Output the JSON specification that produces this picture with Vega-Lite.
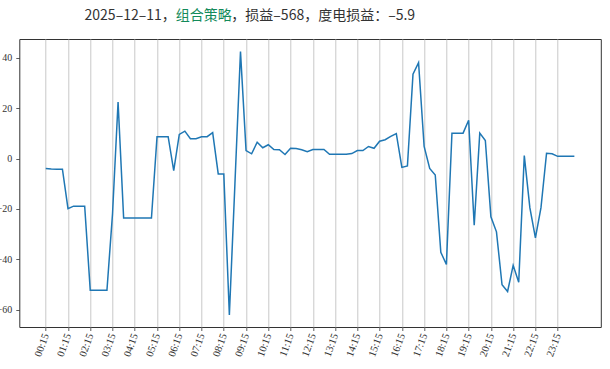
{
  "$schema": "https://vega.github.io/schema/vega-lite/v6.json",
  "width": 581.5,
  "height": 288,
  "autosize": {"type": "none"},
  "padding": {"left": 19.3, "top": 39, "right": 9.2, "bottom": 42},
  "background": "white",
  "config": {
    "view": {"stroke": "#333333", "strokeWidth": 1},
    "axis": {"domain": false, "labelColor": "#333333", "tickColor": "#333333", "titleColor": "#333333"}
  },
  "datasets": {
    "pnl": [
      {"t": "2025-12-11T00:15:00", "v": -3.9}, {"t": "2025-12-11T00:30:00", "v": -4.1}, {"t": "2025-12-11T00:45:00", "v": -4.2}, {"t": "2025-12-11T01:00:00", "v": -4.2},
      {"t": "2025-12-11T01:15:00", "v": -19.9}, {"t": "2025-12-11T01:30:00", "v": -18.9}, {"t": "2025-12-11T01:45:00", "v": -18.9}, {"t": "2025-12-11T02:00:00", "v": -18.9},
      {"t": "2025-12-11T02:15:00", "v": -52.3}, {"t": "2025-12-11T02:30:00", "v": -52.3}, {"t": "2025-12-11T02:45:00", "v": -52.3}, {"t": "2025-12-11T03:00:00", "v": -52.3},
      {"t": "2025-12-11T03:15:00", "v": -22.0}, {"t": "2025-12-11T03:30:00", "v": 22.5}, {"t": "2025-12-11T03:45:00", "v": -23.6}, {"t": "2025-12-11T04:00:00", "v": -23.6},
      {"t": "2025-12-11T04:15:00", "v": -23.6}, {"t": "2025-12-11T04:30:00", "v": -23.6}, {"t": "2025-12-11T04:45:00", "v": -23.6}, {"t": "2025-12-11T05:00:00", "v": -23.6},
      {"t": "2025-12-11T05:15:00", "v": 8.7}, {"t": "2025-12-11T05:30:00", "v": 8.7}, {"t": "2025-12-11T05:45:00", "v": 8.7}, {"t": "2025-12-11T06:00:00", "v": -4.8},
      {"t": "2025-12-11T06:15:00", "v": 9.6}, {"t": "2025-12-11T06:30:00", "v": 10.9}, {"t": "2025-12-11T06:45:00", "v": 7.9}, {"t": "2025-12-11T07:00:00", "v": 7.9},
      {"t": "2025-12-11T07:15:00", "v": 8.7}, {"t": "2025-12-11T07:30:00", "v": 8.7}, {"t": "2025-12-11T07:45:00", "v": 10.3}, {"t": "2025-12-11T08:00:00", "v": -6.1},
      {"t": "2025-12-11T08:15:00", "v": -6.1}, {"t": "2025-12-11T08:30:00", "v": -62.1}, {"t": "2025-12-11T08:45:00", "v": -10.0}, {"t": "2025-12-11T09:00:00", "v": 42.5},
      {"t": "2025-12-11T09:15:00", "v": 3.2}, {"t": "2025-12-11T09:30:00", "v": 1.9}, {"t": "2025-12-11T09:45:00", "v": 6.5}, {"t": "2025-12-11T10:00:00", "v": 4.3},
      {"t": "2025-12-11T10:15:00", "v": 5.5}, {"t": "2025-12-11T10:30:00", "v": 3.6}, {"t": "2025-12-11T10:45:00", "v": 3.5}, {"t": "2025-12-11T11:00:00", "v": 1.6},
      {"t": "2025-12-11T11:15:00", "v": 4.1}, {"t": "2025-12-11T11:30:00", "v": 4.0}, {"t": "2025-12-11T11:45:00", "v": 3.5}, {"t": "2025-12-11T12:00:00", "v": 2.7},
      {"t": "2025-12-11T12:15:00", "v": 3.6}, {"t": "2025-12-11T12:30:00", "v": 3.6}, {"t": "2025-12-11T12:45:00", "v": 3.6}, {"t": "2025-12-11T13:00:00", "v": 1.7},
      {"t": "2025-12-11T13:15:00", "v": 1.7}, {"t": "2025-12-11T13:30:00", "v": 1.7}, {"t": "2025-12-11T13:45:00", "v": 1.7}, {"t": "2025-12-11T14:00:00", "v": 2.0},
      {"t": "2025-12-11T14:15:00", "v": 3.2}, {"t": "2025-12-11T14:30:00", "v": 3.2}, {"t": "2025-12-11T14:45:00", "v": 4.8}, {"t": "2025-12-11T15:00:00", "v": 4.1},
      {"t": "2025-12-11T15:15:00", "v": 6.9}, {"t": "2025-12-11T15:30:00", "v": 7.5}, {"t": "2025-12-11T15:45:00", "v": 8.8}, {"t": "2025-12-11T16:00:00", "v": 9.9},
      {"t": "2025-12-11T16:15:00", "v": -3.5}, {"t": "2025-12-11T16:30:00", "v": -2.9}, {"t": "2025-12-11T16:45:00", "v": 33.5}, {"t": "2025-12-11T17:00:00", "v": 38.1},
      {"t": "2025-12-11T17:15:00", "v": 4.8}, {"t": "2025-12-11T17:30:00", "v": -3.9}, {"t": "2025-12-11T17:45:00", "v": -6.5}, {"t": "2025-12-11T18:00:00", "v": -37.2},
      {"t": "2025-12-11T18:15:00", "v": -42.1}, {"t": "2025-12-11T18:30:00", "v": 10.1}, {"t": "2025-12-11T18:45:00", "v": 10.1}, {"t": "2025-12-11T19:00:00", "v": 10.1},
      {"t": "2025-12-11T19:15:00", "v": 15.2}, {"t": "2025-12-11T19:30:00", "v": -26.5}, {"t": "2025-12-11T19:45:00", "v": 10.1}, {"t": "2025-12-11T20:00:00", "v": 7.2},
      {"t": "2025-12-11T20:15:00", "v": -23.1}, {"t": "2025-12-11T20:30:00", "v": -29.1}, {"t": "2025-12-11T20:45:00", "v": -50.1}, {"t": "2025-12-11T21:00:00", "v": -52.8},
      {"t": "2025-12-11T21:15:00", "v": -42.4}, {"t": "2025-12-11T21:30:00", "v": -49.1}, {"t": "2025-12-11T21:45:00", "v": 1.2}, {"t": "2025-12-11T22:00:00", "v": -19.5},
      {"t": "2025-12-11T22:15:00", "v": -31.5}, {"t": "2025-12-11T22:30:00", "v": -19.5}, {"t": "2025-12-11T22:45:00", "v": 2.1}, {"t": "2025-12-11T23:00:00", "v": 1.9},
      {"t": "2025-12-11T23:15:00", "v": 0.9}, {"t": "2025-12-11T23:30:00", "v": 0.9}, {"t": "2025-12-11T23:45:00", "v": 0.9}, {"t": "2025-12-12T00:00:00", "v": 0.9}
    ],
    "title1": [{"s": "2025–12–11，"}],
    "title2": [{"s": "组合策略"}],
    "title3": [{"s": "，损益–568，度电损益：–5.9"}]
  },
  "layer": [
    {
      "data": {"name": "pnl"},
      "mark": {"type": "line", "color": "#1f77b4", "strokeWidth": 1.5},
      "encoding": {
        "x": {
          "field": "t", "type": "temporal",
          "scale": {"domain": [
            {"year": 2025, "month": 12, "date": 10, "hours": 23, "minutes": 3, "seconds": 45},
            {"year": 2025, "month": 12, "date": 12, "hours": 1, "minutes": 11, "seconds": 15}
          ], "nice": false},
          "axis": {
            "title": null,
            "tickCount": 40,
            "values": [
              {"year": 2025, "month": 12, "date": 11, "hours": 0, "minutes": 15},
              {"year": 2025, "month": 12, "date": 11, "hours": 1, "minutes": 15},
              {"year": 2025, "month": 12, "date": 11, "hours": 2, "minutes": 15},
              {"year": 2025, "month": 12, "date": 11, "hours": 3, "minutes": 15},
              {"year": 2025, "month": 12, "date": 11, "hours": 4, "minutes": 15},
              {"year": 2025, "month": 12, "date": 11, "hours": 5, "minutes": 15},
              {"year": 2025, "month": 12, "date": 11, "hours": 6, "minutes": 15},
              {"year": 2025, "month": 12, "date": 11, "hours": 7, "minutes": 15},
              {"year": 2025, "month": 12, "date": 11, "hours": 8, "minutes": 15},
              {"year": 2025, "month": 12, "date": 11, "hours": 9, "minutes": 15},
              {"year": 2025, "month": 12, "date": 11, "hours": 10, "minutes": 15},
              {"year": 2025, "month": 12, "date": 11, "hours": 11, "minutes": 15},
              {"year": 2025, "month": 12, "date": 11, "hours": 12, "minutes": 15},
              {"year": 2025, "month": 12, "date": 11, "hours": 13, "minutes": 15},
              {"year": 2025, "month": 12, "date": 11, "hours": 14, "minutes": 15},
              {"year": 2025, "month": 12, "date": 11, "hours": 15, "minutes": 15},
              {"year": 2025, "month": 12, "date": 11, "hours": 16, "minutes": 15},
              {"year": 2025, "month": 12, "date": 11, "hours": 17, "minutes": 15},
              {"year": 2025, "month": 12, "date": 11, "hours": 18, "minutes": 15},
              {"year": 2025, "month": 12, "date": 11, "hours": 19, "minutes": 15},
              {"year": 2025, "month": 12, "date": 11, "hours": 20, "minutes": 15},
              {"year": 2025, "month": 12, "date": 11, "hours": 21, "minutes": 15},
              {"year": 2025, "month": 12, "date": 11, "hours": 22, "minutes": 15},
              {"year": 2025, "month": 12, "date": 11, "hours": 23, "minutes": 15}
            ],
            "format": "%H:%M",
            "grid": true, "gridColor": "#c8c8c8", "gridWidth": 1,
            "tickSize": 3.5, "tickWidth": 0.8,
            "labelAngle": -70, "labelAlign": "right", "labelBaseline": "middle",
            "labelFont": "Liberation Serif", "labelFontSize": 10.5, "labelPadding": 3,
            "labelOverlap": false
          }
        },
        "y": {
          "field": "v", "type": "quantitative",
          "scale": {"domain": [-66.9, 47.5], "nice": false, "zero": false},
          "axis": {
            "title": null, "values": [-60, -40, -20, 0, 20, 40],
            "grid": false, "tickSize": 3.5, "tickWidth": 0.8,
            "labelFont": "Liberation Serif", "labelFontSize": 10, "labelPadding": 4
          }
        }
      }
    },
    {
      "mark": {"type": "rule", "color": "#ff0000", "strokeWidth": 1.5},
      "encoding": {
        "x": {"datum": {"year": 2025, "month": 12, "date": 11, "hours": 0, "minutes": 15}, "type": "temporal"},
        "x2": {"datum": {"year": 2025, "month": 12, "date": 12, "hours": 0, "minutes": 0}},
        "y": {"datum": 0, "type": "quantitative"}
      }
    },
    {
      "data": {"name": "title1"},
      "mark": {"type": "text", "align": "right", "baseline": "middle", "dx": 2, "font": "Noto Sans CJK SC", "fontSize": 14, "color": "#333333"},
      "encoding": {
        "x": {"datum": {"year": 2025, "month": 12, "date": 11, "hours": 6, "minutes": 0}, "type": "temporal"},
        "y": {"datum": 56.8, "type": "quantitative"},
        "text": {"field": "s"}
      }
    },
    {
      "data": {"name": "title2"},
      "mark": {"type": "text", "align": "left", "baseline": "middle", "dx": 2, "font": "Noto Sans CJK SC", "fontSize": 14, "color": "#138a5a"},
      "encoding": {
        "x": {"datum": {"year": 2025, "month": 12, "date": 11, "hours": 6, "minutes": 0}, "type": "temporal"},
        "y": {"datum": 56.8, "type": "quantitative"},
        "text": {"field": "s"}
      }
    },
    {
      "data": {"name": "title3"},
      "mark": {"type": "text", "align": "left", "baseline": "middle", "dx": 2, "font": "Noto Sans CJK SC", "fontSize": 14, "color": "#333333"},
      "encoding": {
        "x": {"datum": {"year": 2025, "month": 12, "date": 11, "hours": 8, "minutes": 30}, "type": "temporal"},
        "y": {"datum": 56.8, "type": "quantitative"},
        "text": {"field": "s"}
      }
    }
  ]
}
